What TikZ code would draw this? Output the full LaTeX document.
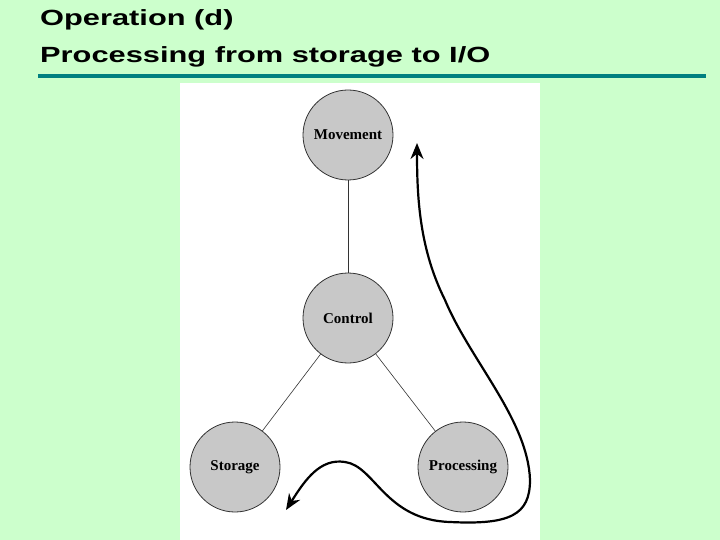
\documentclass[tikz,border=0pt]{standalone}
\usepackage{fontspec}
\usepackage{graphicx}
\setmainfont{Liberation Sans}
\newfontfamily\serifb{Liberation Serif}
\usetikzlibrary{arrows.meta}
\definecolor{bg}{HTML}{CCFFCC}
\definecolor{teal}{HTML}{008080}
\definecolor{circ}{HTML}{C8C8C8}
\begin{document}
\begin{tikzpicture}[x=1pt,y=-1pt,
  title/.style={anchor=west,inner sep=0pt,font=\bfseries\fontsize{22}{26}\selectfont},
  unit/.style={circle,draw=black!80,fill=circ,line width=0.8pt,minimum size=90pt,inner sep=0pt,font=\serifb\bfseries\fontsize{15}{17}\selectfont},
  link/.style={draw=black!80,line width=0.6pt},
  flow/.style={line width=2.2pt,{Stealth[length=16pt,width=13pt]}-{Stealth[length=16pt,width=13pt]}}]
\fill[bg] (0,0) rectangle (720,540);
\useasboundingbox (0,0) rectangle (720,540);
\node[title] (t1) at (40,20) {\scalebox{1.4}[1]{Operation (d)}};
\node[title] (t2) at (40,57) {\scalebox{1.4}[1]{Processing from storage to I/O}};
\draw[teal,line width=3.5pt] (38,76) -- (706,76);
\fill[white] (180,83) rectangle (540,540);
\node[unit] (mv) at (348,135) {Movement};
\node[unit] (ct) at (348,318) {Control};
\node[unit] (st) at (235,467) {Storage};
\node[unit] (pr) at (463,467) {Processing};
\draw[link] (mv) -- (ct);
\draw[link] (ct) -- (st);
\draw[link] (ct) -- (pr);
\coordinate (a) at (417,143);
\coordinate (b) at (286,510);
\draw[flow] (b) .. controls (305,480) and (320,458) .. (345,462)
  .. controls (375,466) and (385,520) .. (450,522)
  .. controls (510,525) and (530,515) .. (530,480)
  .. controls (528,420) and (470,360) .. (445,300)
  .. controls (420,250) and (417,200) .. (a);
\end{tikzpicture}
\end{document}
